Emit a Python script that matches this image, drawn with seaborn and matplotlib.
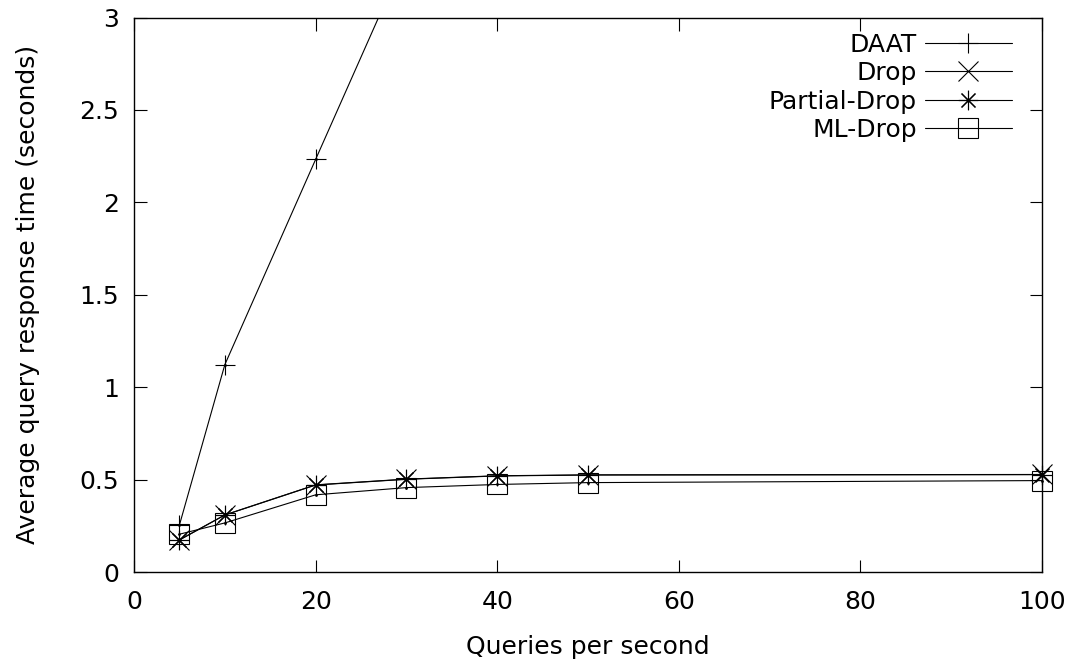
import matplotlib
matplotlib.use("Agg")
import matplotlib.pyplot as plt
import seaborn as sns
import pandas as pd

qps = [5, 10, 20, 30, 40, 50, 100]
daat_qps = [5, 10, 20, 30]
daat = [0.256, 1.123, 2.233, 3.34]
drop = [0.175, 0.31, 0.473, 0.504, 0.522, 0.527, 0.529]
partial_drop = [0.175, 0.31, 0.472, 0.503, 0.521, 0.526, 0.528]
ml_drop = [0.206, 0.267, 0.419, 0.458, 0.475, 0.485, 0.496]

sns.set_style("ticks")
plt.rcParams['font.family'] = ['DejaVu Sans']
plt.rcParams['text.color'] = 'black'
plt.rcParams['axes.labelcolor'] = 'black'

fig = plt.figure(figsize=(10.75, 6.64), dpi=100)
ax = fig.add_axes([0.1247, 0.1381, 0.9693 - 0.1247, 0.9736 - 0.1381])

fs = 18
ms = 14
series = [
    ("DAAT", daat_qps, daat, "+", True),
    ("Drop", qps, drop, "x", False),
    ("Partial-Drop", qps, partial_drop, (8, 2, 0), False),
    ("ML-Drop", qps, ml_drop, "s", False),
]
handles = []
for name, xs, ys, mk, clip in series:
    df = pd.DataFrame({"x": xs, "y": ys})
    sns.lineplot(data=df, x="x", y="y", ax=ax, color="black", lw=0.8,
                 marker=mk, markersize=ms, markerfacecolor="none",
                 markeredgecolor="black", markeredgewidth=0.8, label=name,
                 legend=False, clip_on=clip)
    line = ax.lines[-1]
    sns.scatterplot(data=df, x="x", y="y", ax=ax, color="black", s=4,
                    linewidth=0, legend=False, zorder=3, clip_on=clip)
    handles.append(line)

ax.set_xlim(0, 100)
ax.set_ylim(0, 3)
ax.set_xticks([0, 20, 40, 60, 80, 100])
ax.set_yticks([0, 0.5, 1, 1.5, 2, 2.5, 3])
ax.set_yticklabels(["0", "0.5", "1", "1.5", "2", "2.5", "3"])
ax.tick_params(direction="in", length=9, width=0.8, top=True, right=True,
               labelsize=fs, colors="black")
ax.tick_params(axis="x", pad=13)
ax.tick_params(axis="y", pad=11)
for s in ax.spines.values():
    s.set_linewidth(1.0)
    s.set_color("black")

ax.set_xlabel("Queries per second", fontsize=fs, labelpad=15, color="black")
ax.set_ylabel("Average query response time (seconds)", fontsize=fs,
              labelpad=28, color="black")

leg = ax.legend(handles=handles, labels=[s[0] for s in series],
                loc="upper right", bbox_to_anchor=(0.967, 0.973),
                frameon=False, markerfirst=False, fontsize=fs,
                handlelength=3.5, handletextpad=0.3, labelspacing=0.18,
                borderaxespad=0, borderpad=0, numpoints=1)
for t in leg.get_texts():
    t.set_ha("right")
    t.set_color("black")
leg._legend_box.align = "right"

fig.savefig("out.png", dpi=100)
